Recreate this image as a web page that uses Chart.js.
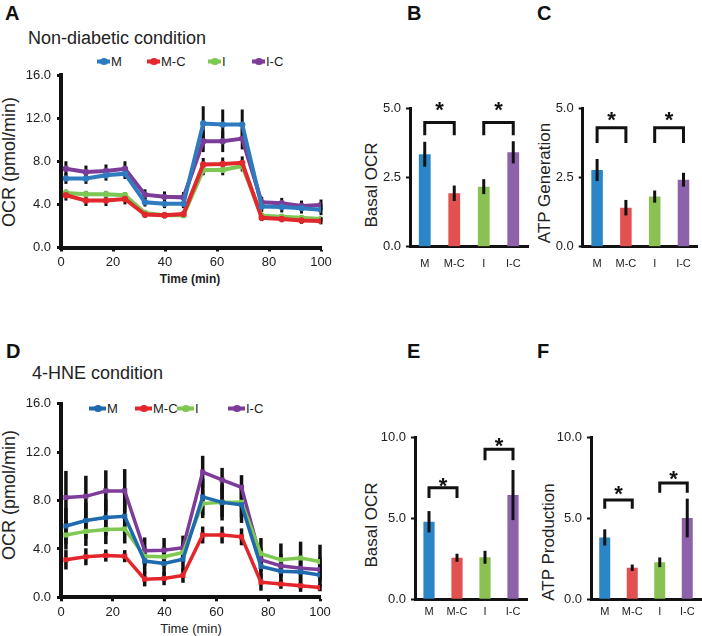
<!DOCTYPE html>
<html>
<head>
<meta charset="utf-8">
<script src="https://cdn.jsdelivr.net/npm/chart.js@4.4.1/dist/chart.umd.min.js"></script>
<style>
  body { margin: 0; background: #fff; }
  #fig { position: relative; width: 702px; height: 636px; overflow: hidden; background: #fff;
         font-family: "Liberation Sans", Arial, sans-serif; color: #222; }
  #fig canvas { position: absolute; }
  .t { position: absolute; white-space: nowrap; line-height: 1; }
  .letter { font-weight: bold; font-size: 20px; color: #111; }
  .title { font-size: 18px; }
  .ytitle { font-size: 18px; transform: translate(-50%, -50%) rotate(-90deg); }
  .btitle { font-size: 17px; transform: translate(-50%, -50%) rotate(-90deg); }
  .xtitle { transform: translate(-50%, -50%); }
  .leg { position: absolute; font-size: 13px; line-height: 1; display: flex; align-items: center; transform: translateY(-50%); }
  .leg i { display: inline-block; position: relative; height: 4px; margin-right: 1px; }
  .leg i b { position: absolute; left: 50%; top: 50%; width: 8px; height: 7px; border-radius: 50%; transform: translate(-50%, -50%); }
</style>
</head>
<body>
<div id="fig">
  <div class="t letter" style="left:5px;top:3px">A</div>
  <div class="t letter" style="left:407px;top:3px">B</div>
  <div class="t letter" style="left:537px;top:3px">C</div>
  <div class="t letter" style="left:6px;top:341px">D</div>
  <div class="t letter" style="left:407px;top:341px">E</div>
  <div class="t letter" style="left:537px;top:341px">F</div>

  <div class="t title" style="left:28px;top:29px">Non-diabetic condition</div>
  <div class="t title" style="left:32px;top:364px">4-HNE condition</div>

  <div class="t ytitle" style="left:9px;top:162px">OCR (pmol/min)</div>
  <div class="t ytitle" style="left:9px;top:495px">OCR (pmol/min)</div>
  <div class="t xtitle" style="left:190px;top:279px;font-size:12px;font-weight:bold">Time (min)</div>
  <div class="t xtitle" style="left:191px;top:628px;font-size:13px">Time (min)</div>

  <div class="t btitle" style="left:371px;top:185px">Basal OCR</div>
  <div class="t btitle" style="left:544px;top:183px">ATP Generation</div>
  <div class="t btitle" style="left:371px;top:525px">Basal OCR</div>
  <div class="t btitle" style="left:548px;top:542px">ATP Production</div>

  <div id="legA"></div>
  <div id="legD"></div>

  <canvas id="cA" width="340" height="230" style="left:0;top:60px"></canvas>
  <canvas id="cD" width="340" height="240" style="left:0;top:390px"></canvas>
  <canvas id="cB" width="160" height="190" style="left:380px;top:90px"></canvas>
  <canvas id="cC" width="157" height="190" style="left:545px;top:90px"></canvas>
  <canvas id="cE" width="160" height="210" style="left:380px;top:420px"></canvas>
  <canvas id="cF" width="157" height="210" style="left:545px;top:420px"></canvas>
</div>

<script>
// ---- data ----
const seriesNames = ['M', 'M-C', 'I', 'I-C'];
const timeMin = [1.9, 9.6, 17.3, 24.6, 32.3, 39.8, 47.1, 54.7, 62.2, 69.7, 77.2, 84.9, 92.5, 100];
const ocrTicks = [0, 4, 8, 12, 16];

// A: non-diabetic condition
const aM    = [6.4, 6.4, 6.7, 6.85, 4.2, 4.05, 4.05, 11.5, 11.4, 11.4, 3.8, 3.75, 3.65, 3.5];
const aMC   = [4.85, 4.35, 4.35, 4.5, 3.05, 3.0, 3.1, 7.7, 7.75, 7.85, 2.75, 2.65, 2.5, 2.45];
const aI    = [5.05, 4.95, 4.95, 4.85, 3.2, 3.0, 3.0, 7.2, 7.2, 7.55, 2.95, 2.85, 2.75, 2.65];
const aIC   = [7.3, 7.0, 7.1, 7.3, 4.9, 4.7, 4.65, 9.85, 9.85, 10.1, 4.2, 4.1, 3.85, 3.95];
const aMErr  = [0.5, 0.5, 0.5, 0.5, 0.4, 0.4, 0.4, 1.6, 1.4, 1.4, 0.5, 0.5, 0.5, 0.5];
const aMCErr = [0.5, 0.5, 0.5, 0.5, 0.3, 0.3, 0.3, 0.6, 0.6, 0.6, 0.3, 0.3, 0.3, 0.3];
const aIErr  = [0.3, 0.3, 0.3, 0.3, 0.2, 0.2, 0.2, 0.5, 0.5, 0.5, 0.2, 0.2, 0.2, 0.2];
const aICErr = [0.7, 0.6, 0.6, 0.7, 0.5, 0.5, 0.5, 1.0, 1.0, 1.0, 0.5, 0.5, 0.5, 0.5];

// D: 4-HNE condition
const dM    = [5.9, 6.35, 6.6, 6.7, 3.0, 2.8, 3.15, 8.3, 7.85, 7.65, 2.55, 2.15, 2.1, 1.85];
const dMC   = [3.1, 3.35, 3.45, 3.4, 1.5, 1.55, 1.8, 5.15, 5.15, 5.0, 1.25, 1.1, 0.95, 0.8];
const dI    = [5.15, 5.45, 5.6, 5.65, 3.4, 3.35, 3.7, 7.75, 7.85, 7.85, 3.6, 3.1, 3.25, 2.95];
const dIC   = [8.25, 8.35, 8.8, 8.8, 3.85, 3.9, 4.1, 10.35, 9.7, 9.1, 3.1, 2.6, 2.4, 2.3];
const dMErr  = [1.5, 1.5, 1.5, 1.5, 1.0, 1.0, 1.0, 1.5, 1.5, 1.5, 1.0, 1.0, 1.0, 1.0];
const dMCErr = [0.8, 0.7, 0.5, 0.5, 0.6, 0.55, 0.6, 0.7, 0.7, 0.7, 0.7, 0.4, 0.5, 0.3];
const dIErr  = [1.2, 1.2, 1.2, 1.2, 0.8, 0.8, 0.8, 1.2, 1.2, 1.2, 1.3, 1.35, 1.35, 1.4];
const dICErr = [2.2, 1.7, 1.7, 1.8, 1.1, 1.0, 1.0, 1.35, 1.0, 1.0, 1.0, 1.0, 1.0, 1.0];

// bar panels
const barCats = ['M', 'M-C', 'I', 'I-C'];
const bBasal = [3.34, 1.93, 2.17, 3.41];   const bErr = [0.45, 0.28, 0.27, 0.4];
const cAtp   = [2.77, 1.41, 1.81, 2.42];   const cErr = [0.4, 0.28, 0.22, 0.25];
const eBasal = [4.8, 2.57, 2.6, 6.45];     const eErr = [0.66, 0.25, 0.4, 1.55];
const fAtp   = [3.83, 1.95, 2.29, 5.03];   const fErr = [0.5, 0.2, 0.3, 1.2];
// significance brackets: [from, to, top, leg end, star]
const sigB = [[0, 1, 4.49, 4.03, 5.1], [2, 3, 4.49, 4.03, 5.1]];
const sigC = [[0, 1, 4.3, 3.75, 4.75], [2, 3, 4.3, 3.75, 4.75]];
const sigE = [[0, 1, 6.9, 6.27, 7.3], [2, 3, 9.28, 8.6, 9.75]];
const sigF = [[0, 1, 6.14, 5.6, 6.76], [2, 3, 7.2, 6.6, 7.69]];

// ---- style ----
const FONT = '"Liberation Sans", Arial, sans-serif';
const lineColorsA = ['#2f7bc0', '#e2282c', '#7cc855', '#7b3d97'];
const lineColorsD = ['#1f6aae', '#e4262b', '#7fc852', '#7d3c98'];
const barColors   = ['#2a86c6', '#e2514f', '#8bc152', '#8e62ab'];

// ── legends (html) ──
function legend(el, colors, lefts, top, w) {
    document.getElementById(el).innerHTML = seriesNames.map((n, k) =>
        `<div class="leg" style="left:${lefts[k]}px;top:${top}px">
            <i style="width:${w}px;background:${colors[k]}"><b style="background:${colors[k]}"></b></i>${n}
         </div>`).join('');
}
legend('legA', lineColorsA, [97, 147, 208, 252], 61, 13);
legend('legD', lineColorsD, [89, 135, 177, 228], 408, 17);

// ── plugins ──
function errPlugin(errs, width, behind) {
    const draw = chart => {
        const ctx = chart.ctx, y = chart.scales.y;
        ctx.save();
        ctx.strokeStyle = '#111';
        ctx.lineWidth = width;
        errs.forEach((err, k) => {
            const meta = chart.getDatasetMeta(k);
            const vals = chart.data.datasets[k].data;
            meta.data.forEach((el, j) => {
                const v = typeof vals[j] === 'object' ? vals[j].y : vals[j];
                ctx.beginPath();
                ctx.moveTo(el.x, y.getPixelForValue(v + err[j]));
                ctx.lineTo(el.x, y.getPixelForValue(v - err[j]));
                ctx.stroke();
            });
        });
        ctx.restore();
    };
    return behind ? { id: 'errB', beforeDatasetsDraw: draw } : { id: 'errA', afterDatasetsDraw: draw };
}

function sigPlugin(items) {
    return {
        id: 'sig',
        afterDraw(chart) {
            const ctx = chart.ctx, x = chart.scales.x, y = chart.scales.y;
            ctx.save();
            ctx.strokeStyle = '#111';
            ctx.fillStyle = '#111';
            ctx.lineWidth = 3;
            ctx.font = `bold 22px ${FONT}`;
            ctx.textAlign = 'center';
            items.forEach(b => {
                const x1 = x.getPixelForValue(b[0]), x2 = x.getPixelForValue(b[1]);
                const yt = y.getPixelForValue(b[2]), yl = y.getPixelForValue(b[3]);
                ctx.beginPath();
                ctx.moveTo(x1, yl); ctx.lineTo(x1, yt); ctx.lineTo(x2, yt); ctx.lineTo(x2, yl);
                ctx.stroke();
                ctx.fillText('*', (x1 + x2) / 2, y.getPixelForValue(b[4]) + 0.52 * 22);
            });
            ctx.restore();
        }
    };
}

// ── line charts ──
function lineChart(id, vals, errs, colors, L) {
    return new Chart(document.getElementById(id), {
        type: 'line',
        data: {
            datasets: vals.map((v, k) => ({
                label: seriesNames[k],
                data: timeMin.map((t, i) => ({ x: t, y: v[i] })),
                borderColor: colors[k],
                backgroundColor: colors[k],
                borderWidth: L.lw,
                pointRadius: L.pr,
                pointStyle: L.ps,
                pointBorderWidth: 0,
                tension: 0,
            }))
        },
        options: {
            responsive: false,
            animation: false,
            layout: { padding: { top: L.top, right: L.right, left: 0, bottom: 0 } },
            plugins: { legend: { display: false }, tooltip: { enabled: false } },
            scales: {
                x: {
                    type: 'linear', min: 0, max: 100,
                    ticks: { stepSize: 20, color: '#222', padding: 3, maxRotation: 0, font: { size: 13, family: FONT } },
                    grid: { drawOnChartArea: false, tickLength: 4, tickColor: '#111', tickWidth: 3 },
                    border: { color: '#111', width: 4 },
                    afterFit(s) { s.height = L.xh; }
                },
                y: {
                    min: 0, max: 16,
                    afterBuildTicks(s) { s.ticks = ocrTicks.map(v => ({ value: v })); },
                    ticks: { color: '#222', padding: 6, font: { size: 13, family: FONT }, callback: v => v.toFixed(1) },
                    grid: { drawOnChartArea: false, tickLength: 4, tickColor: '#111', tickWidth: 3 },
                    border: { color: '#111', width: 4 },
                    afterFit(s) { s.width = L.yw; }
                }
            }
        },
        plugins: [errPlugin(errs, L.ew, true)]
    });
}

lineChart('cA', [aM, aMC, aI, aIC], [aMErr, aMCErr, aIErr, aICErr], lineColorsA,
    { top: 15, right: 19, xh: 42.5, yw: 61, lw: 4, pr: 3.2, ps: 'circle', ew: 3 });
lineChart('cD', [dM, dMC, dI, dIC], [dMErr, dMCErr, dIErr, dICErr], lineColorsD,
    { top: 13.5, right: 20, xh: 32.7, yw: 61, lw: 3.5, pr: 3.6, ps: 'rect', ew: 3.5 });

// ── bar charts ──
function barChart(id, vals, err, ymax, step, sig, L) {
    return new Chart(document.getElementById(id), {
        type: 'bar',
        data: {
            labels: barCats,
            datasets: [{ data: vals, backgroundColor: barColors, barPercentage: 0.4, categoryPercentage: 1 }]
        },
        options: {
            responsive: false,
            animation: false,
            layout: { padding: { top: L.top, right: L.right, left: 0, bottom: 0 } },
            plugins: { legend: { display: false }, tooltip: { enabled: false } },
            scales: {
                x: {
                    ticks: { color: '#222', padding: L.xp, font: { size: 11, family: FONT } },
                    grid: { display: false, drawTicks: false },
                    border: { color: '#111', width: 3 },
                    afterFit(s) { s.height = L.xh; }
                },
                y: {
                    min: 0, max: ymax,
                    ticks: { stepSize: step, color: '#222', padding: 5, font: { size: 13, family: FONT }, callback: v => v.toFixed(1) },
                    grid: { drawOnChartArea: false, tickLength: 4, tickColor: '#111', tickWidth: 2 },
                    border: { color: '#111', width: 3 },
                    afterFit(s) { s.width = L.yw; }
                }
            }
        },
        plugins: [errPlugin([err], 3, false), sigPlugin(sig)]
    });
}

barChart('cB', bBasal, bErr, 5, 2.5, sigB, { top: 18.3, right: 12, xh: 33.3, yw: 30, xp: 11 });
barChart('cC', cAtp, cErr, 5, 2.5, sigC, { top: 18.3, right: 1.5, xh: 33.3, yw: 37.7, xp: 11 });
barChart('cE', eBasal, eErr, 10, 5, sigE, { top: 17.7, right: 13, xh: 30.7, yw: 35, xp: 6 });
barChart('cF', fAtp, fErr, 10, 5, sigF, { top: 17.7, right: 1, xh: 30.7, yw: 46, xp: 6 });
</script>
</body>
</html>
